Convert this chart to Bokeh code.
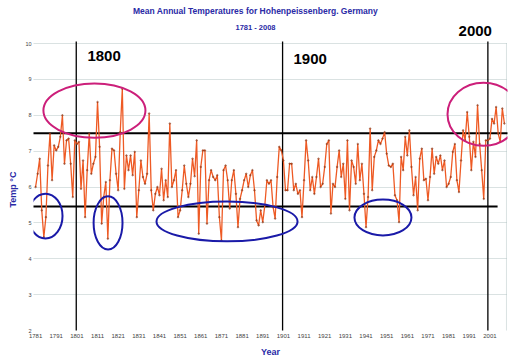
from bokeh.plotting import figure
from bokeh.models import Label, FixedTicker, Range1d, Title
from bokeh.embed import file_html
from bokeh.resources import INLINE

# ---- data ----
years = list(range(1781, 2009))
temps = [
    6.0, 6.37, 6.79, 5.35, 4.6, 5.16, 6.6, 7.49, 6.19, 7.16, 7.02, 7.12, 7.4, 8.0, 6.65, 7.3, 7.35, 6.65, 5.72, 7.3,
    7.2, 7.26, 5.95, 6.74, 5.16, 6.47, 7.49, 6.37, 6.65, 6.84, 8.37, 7.12, 4.98, 5.72, 6.14, 4.56, 6.19, 7.07, 7.02, 6.37,
    5.91, 7.53, 8.74, 5.95, 6.88, 6.47, 6.88, 6.33, 6.98, 5.16, 5.91, 6.74, 6.28, 6.09, 6.37, 8.05, 5.91, 5.35, 5.81, 6.0,
    5.77, 6.51, 5.63, 6.19, 5.72, 7.77, 6.0, 6.19, 6.47, 5.16, 5.35, 5.91, 6.6, 6.09, 5.72, 6.09, 6.79, 6.3, 7.3, 4.7,
    6.56, 7.02, 7.02, 4.98, 6.19, 6.47, 6.28, 6.19, 6.33, 5.16, 4.51, 6.47, 6.6, 6.19, 5.4, 6.19, 6.47, 5.81, 4.88, 5.67,
    5.91, 6.19, 6.37, 6.0, 6.33, 6.47, 5.91, 5.07, 4.93, 5.35, 5.02, 5.49, 6.19, 6.09, 6.19, 5.44, 5.12, 6.28, 7.12, 7.02,
    6.74, 5.91, 5.91, 6.65, 6.65, 5.91, 6.09, 5.81, 5.91, 5.16, 6.19, 7.3, 6.74, 5.91, 6.28, 5.81, 6.28, 6.79, 6.0, 6.09,
    6.56, 7.2, 7.3, 5.26, 6.09, 6.0, 6.56, 7.02, 6.28, 6.65, 5.67, 7.3, 5.35, 6.74, 6.56, 6.09, 7.2, 6.19, 6.65, 5.81,
    4.88, 5.72, 7.63, 5.91, 6.84, 7.02, 7.3, 7.2, 7.35, 7.53, 6.93, 6.6, 6.56, 6.65, 5.77, 5.63, 5.02, 6.84, 6.47, 7.4,
    6.88, 7.58, 6.56, 5.77, 6.28, 5.35, 6.79, 7.07, 6.19, 6.23, 5.63, 6.28, 7.07, 6.37, 6.84, 6.65, 6.88, 6.47, 6.74, 6.0,
    6.09, 6.28, 6.98, 7.2, 6.19, 5.86, 6.74, 7.58, 7.3, 8.09, 7.4, 6.47, 7.26, 6.84, 8.28, 7.2, 6.47, 5.67, 7.3, 7.3,
    7.35, 7.9, 7.77, 8.23, 7.49, 7.26, 8.19, 7.77,
]
x_ticks = [1781, 1791, 1801, 1811, 1821, 1831, 1841, 1851, 1861, 1871, 1881, 1891,
           1901, 1911, 1921, 1931, 1941, 1951, 1961, 1971, 1981, 1991, 2001]
y_ticks = [2, 3, 4, 5, 6, 7, 8, 9, 10]

# annotations
century_lines = [1800.7, 1900.6, 2000.0]
century_labels = ["1800", "1900", "2000"]
band_levels = [7.5, 5.46]
band_ends = [2010.0, 2004.7]
warm_x = [1809.5, 1997.9]
warm_y = [8.13, 8.03]
warm_w = [49.4, 34.9]
warm_h = [1.51, 1.76]
cold_x = [1785.8, 1816.1, 1873.7, 1949.2]
cold_y = [5.19, 5.0, 5.04, 5.15]
cold_w = [16.5, 14.0, 68.3, 27.6]
cold_h = [1.25, 1.48, 1.11, 1.0]

BLUE = "#2a2aa6"
FONT = "Liberation Sans"

p = figure(width=513, height=361, x_range=Range1d(1780, 2009.5), y_range=Range1d(2, 11.2),
           output_backend="svg", toolbar_location=None, title=None,
           min_border_left=33, min_border_right=6, min_border_top=0, min_border_bottom=31)
p.background_fill_color = "white"
p.border_fill_color = "white"
p.outline_line_color = None

p.xgrid.visible = False
p.ygrid.grid_line_color = "#b4c4c4"
p.ygrid.grid_line_dash = "1 1"
p.ygrid.ticker = FixedTicker(ticks=y_ticks)

p.xaxis.ticker = FixedTicker(ticks=x_ticks)
p.yaxis.ticker = FixedTicker(ticks=y_ticks)
for ax in (p.xaxis[0], p.yaxis[0]):
    ax.axis_line_color = None
    ax.major_tick_line_color = None
    ax.minor_tick_line_color = None
    ax.major_tick_out = 0
    ax.major_tick_in = 0
    ax.minor_tick_out = 0
    ax.minor_tick_in = 0
    ax.major_label_text_font = FONT
    ax.major_label_text_color = "#444444"
    ax.axis_label_text_font = FONT
    ax.axis_label_text_font_style = "bold"
    ax.axis_label_text_color = BLUE
    ax.axis_label_text_font_size = "9px"
p.xaxis.major_label_text_font_size = "6px"
p.yaxis.major_label_text_font_size = "5.5px"
p.xaxis.major_label_standoff = 3
p.yaxis.major_label_standoff = 2
p.xaxis.axis_label = "Year"
p.xaxis.axis_label_standoff = 6

p.add_layout(Title(text="Temp \u00b0C", align="left", offset=123, text_font=FONT,
                   text_font_size="9px", text_font_style="bold", text_color=BLUE,
                   standoff=9), "left")

# frame border at right
p.segment(x0=2009.0, y0=2, x1=2009.0, y1=10, line_color="#b4c4c4", line_dash="1 1", line_width=1)

# horizontal band lines
for lv, le in zip(band_levels, band_ends):
    p.segment(x0=1778, y0=lv, x1=le, y1=lv, line_color="black", line_width=2)
# century lines
for cx in century_lines:
    p.segment(x0=cx, y0=1.5, x1=cx, y1=10.06, line_color="black", line_width=1.3)

# data
p.line(years, temps, line_color="#ee5a24", line_width=1.3)
p.scatter(years, temps, size=1.6, color="#8a3515", alpha=0.5)

# ellipses
p.ellipse(x=warm_x, y=warm_y, width=warm_w, height=warm_h, fill_alpha=0,
          line_color="#cc1f7a", line_width=2)
p.ellipse(x=cold_x, y=cold_y, width=cold_w, height=cold_h, fill_alpha=0,
          line_color="#1a1aa8", line_width=2)

# titles
p.add_layout(Label(x=1887.5, y=10, y_offset=33, text="Mean Annual Temperatures for Hohenpeissenberg. Germany",
                   text_align="center", text_baseline="middle", text_font=FONT, text_font_size="8.5px",
                   text_font_style="bold", text_color=BLUE))
p.add_layout(Label(x=1887.5, y=10, y_offset=16, text="1781 - 2008",
                   text_align="center", text_baseline="middle", text_font=FONT, text_font_size="7.5px",
                   text_font_style="bold", text_color=BLUE))

# century texts
lab_x = [1806.1, 1905.9, 1985.8]
lab_off = [-12, -15, 13]
for lx, lo, lt in zip(lab_x, lab_off, century_labels):
    p.add_layout(Label(x=lx, y=10, y_offset=lo, text=lt, text_align="left", text_baseline="middle",
                       text_font=FONT, text_font_size="15px", text_font_style="bold", text_color="black"))

open("out.html", "w").write(file_html(p, INLINE))
